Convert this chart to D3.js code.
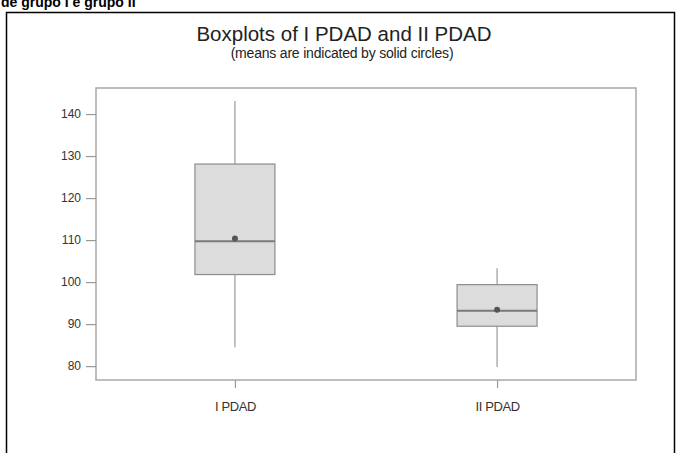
<!DOCTYPE html>
<html>
<head>
<meta charset="utf-8">
<script src="https://cdn.jsdelivr.net/npm/d3@7"></script>
<style>
  html, body { margin: 0; padding: 0; background: #fff; }
  svg { display: block; }
</style>
</head>
<body>
<script>
var width = 676;
var height = 453;

var plot = ({ left: 96, right: 636, top: 88, bottom: 380 });

var categories = ['I PDAD', 'II PDAD'];
var whisker_low = [84.5, 79.8];
var q1 = [101.8, 89.5];
var median = [109.7, 93.2];
var q3 = [128.1, 99.4];
var whisker_high = [143.1, 103.3];
var means = [110.4, 93.4];
var y_ticks = [80, 90, 100, 110, 120, 130, 140];

var box_data = categories.map(function(c, i) {
    return { name: c, lo: whisker_low[i], q1: q1[i], med: median[i], q3: q3[i], hi: whisker_high[i], mean: means[i] };
});

var svg = d3.select('body')
    .append('svg')
    .attr('width', width)
    .attr('height', height);

// caption text cut off at the top of the crop
svg.append('text')
    .attr('x', 1)
    .attr('y', 7)
    .style('font-family', 'Liberation Sans, Arial, sans-serif')
    .style('font-weight', 700)
    .style('font-size', '14px')
    .text('de grupo I e grupo II');

// outer black frame (bottom edge is outside the picture)
svg.append('path')
    .attr('d', 'M6.5,' + height + 'V12.5H674.5V' + height)
    .attr('fill', 'none')
    .attr('stroke', '#000')
    .attr('stroke-width', 1.5);

var x = d3.scalePoint()
    .domain(categories)
    .range([plot.left, plot.right])
    .padding(0.53);

var y = d3.scaleLinear()
    .domain([76.7, 146.2])
    .range([plot.bottom, plot.top]);

// plot frame
svg.append('rect')
    .attr('x', plot.left)
    .attr('y', plot.top)
    .attr('width', plot.right - plot.left)
    .attr('height', plot.bottom - plot.top)
    .attr('fill', 'none')
    .attr('stroke', '#a8a8a8')
    .attr('stroke-width', 1.5);

var y_axis = svg.append('g')
    .attr('transform', `translate(${plot.left},0)`)
    .call(d3.axisLeft(y).tickValues(y_ticks).tickSize(10).tickPadding(5));

var x_axis = svg.append('g')
    .attr('transform', `translate(0,${plot.bottom})`)
    .call(d3.axisBottom(x).tickSize(8).tickPadding(14));

svg.selectAll('.domain').remove();
svg.selectAll('.tick line').attr('stroke', '#999').attr('stroke-width', 1.2);
y_axis.selectAll('text')
    .style('font-family', 'Liberation Sans, Arial, sans-serif')
    .style('font-size', '12px')
    .attr('fill', '#333');
x_axis.selectAll('text')
    .style('font-family', 'Liberation Sans, Arial, sans-serif')
    .style('font-size', '13px')
    .style('letter-spacing', '-0.4px')
    .attr('fill', '#333');

var box_w = 80;

var boxes = svg.selectAll('.box')
    .data(box_data)
    .enter()
    .append('g')
    .attr('class', 'box');

boxes.append('line')
    .attr('x1', function(d) { return x(d.name); })
    .attr('x2', function(d) { return x(d.name); })
    .attr('y1', function(d) { return y(d.hi); })
    .attr('y2', function(d) { return y(d.lo); })
    .attr('stroke', '#9a9a9a')
    .attr('stroke-width', 1.2);

boxes.append('rect')
    .attr('x', function(d) { return x(d.name) - box_w / 2; })
    .attr('y', function(d) { return y(d.q3); })
    .attr('width', box_w)
    .attr('height', function(d) { return y(d.q1) - y(d.q3); })
    .attr('fill', '#dcdcdc')
    .attr('stroke', '#8c8c8c')
    .attr('stroke-width', 1.2);

boxes.append('line')
    .attr('x1', function(d) { return x(d.name) - box_w / 2; })
    .attr('x2', function(d) { return x(d.name) + box_w / 2; })
    .attr('y1', function(d) { return y(d.med); })
    .attr('y2', function(d) { return y(d.med); })
    .attr('stroke', '#7a7a7a')
    .attr('stroke-width', 2);

boxes.append('circle')
    .attr('cx', function(d) { return x(d.name); })
    .attr('cy', function(d) { return y(d.mean); })
    .attr('r', 3)
    .attr('fill', '#555');

svg.append('text')
    .attr('x', 344)
    .attr('y', 40.5)
    .attr('text-anchor', 'middle')
    .style('font-family', 'Liberation Sans, Arial, sans-serif')
    .style('font-size', '20.5px')
    .attr('fill', '#222')
    .text('Boxplots of I PDAD and II PDAD');

svg.append('text')
    .attr('x', 342)
    .attr('y', 58)
    .attr('text-anchor', 'middle')
    .style('font-family', 'Liberation Sans, Arial, sans-serif')
    .style('font-size', '14px')
    .style('letter-spacing', '-0.2px')
    .attr('fill', '#222')
    .text('(means are indicated by solid circles)');
</script>
</body>
</html>
